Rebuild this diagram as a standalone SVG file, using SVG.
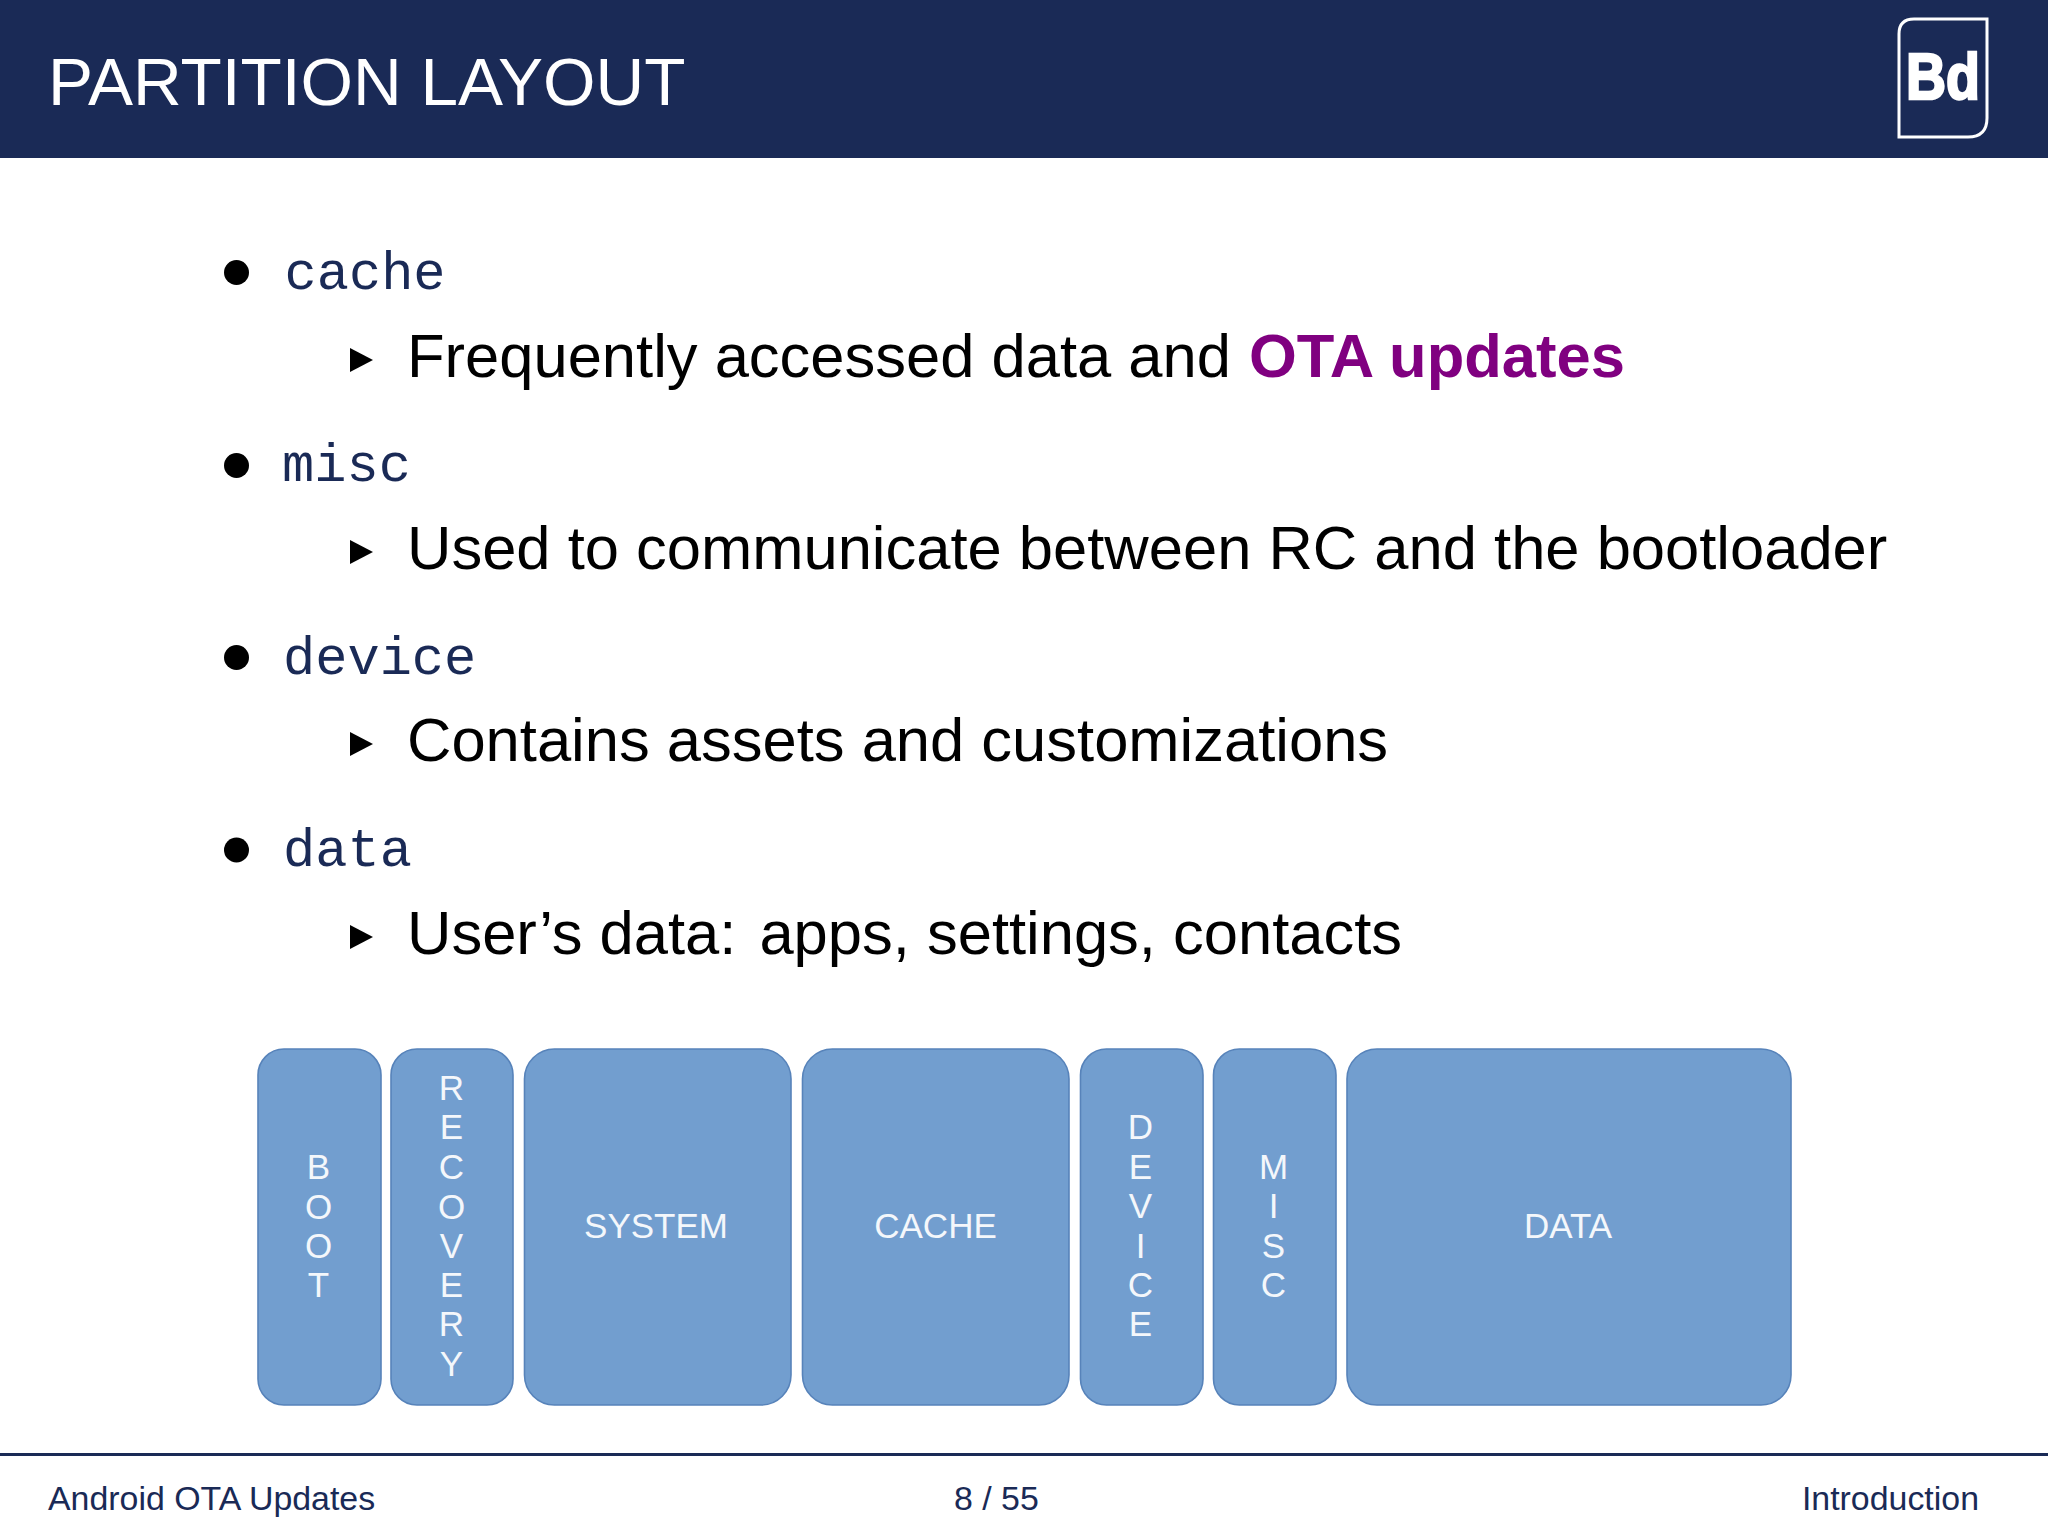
<svg xmlns="http://www.w3.org/2000/svg" width="2048" height="1536" viewBox="0 0 2048 1536">
<style>
.s{font-family:"Liberation Sans",Arial,sans-serif}
.m{font-family:"Liberation Mono","Courier New",monospace;font-size:53.7px;fill:#1a2a56}
.t{font-size:61.5px;fill:#000}
.b{fill:#729ecf;stroke:#5783ba;stroke-width:1.6}
.l{font-size:35px;fill:#f4f7fb;text-anchor:middle}
.f{font-size:33.9px;fill:#1a2a56}
</style>
<defs>
<polygon id="tri" points="0,-12 23,0 0,12" fill="#000"/>
</defs>
<rect width="2048" height="1536" fill="#fff"/>
<g id="header">
<rect width="2048" height="158" fill="#1a2a56"/>
<text class="s" x="48" y="104.500" font-size="67.500" fill="#fff">PARTITION LAYOUT</text>
</g>
<g id="logo">
<path d="M1914 19H1987V118Q1987 137 1968 137H1899V34Q1899 19 1914 19Z" fill="none" stroke="#fff" stroke-width="3"/>
<text class="s" x="1906" y="99" font-size="64" font-weight="700" fill="#fff" stroke="#fff" stroke-width="2.500" textLength="74" lengthAdjust="spacingAndGlyphs">Bd</text>
</g>
<g id="list">
<circle cx="236.500" cy="272.500" r="12.500"/><text class="m" x="284.500" y="289">cache</text>
<use href="#tri" x="350" y="360"/><text class="s t" x="407" y="376.500">Frequently accessed data and <tspan fill="#800080" font-weight="700" dx="1">OTA updates</tspan></text>
<circle cx="236.500" cy="465.500" r="12.500"/><text class="m" x="282" y="481">misc</text>
<use href="#tri" x="350" y="552"/><text class="s t" x="407" y="568.500">Used to communicate between RC and the bootloader</text>
<circle cx="236.500" cy="657.500" r="12.500"/><text class="m" x="283" y="674">device</text>
<use href="#tri" x="350" y="744"/><text class="s t" x="407" y="761">Contains assets and customizations</text>
<circle cx="236.500" cy="850" r="12.500"/><text class="m" x="283" y="866">data</text>
<use href="#tri" x="350" y="937"/><text class="s t" x="407" y="953.500">User’s data: <tspan dx="6">apps, settings, contacts</tspan></text>
</g>
<g id="connectors"></g>
<g id="boot"><rect class="b" x="258" y="1049" width="123" height="356" rx="26"/>
<text class="s l"><tspan x="318.500" y="1179">B</tspan><tspan x="318.500" y="1218.500">O</tspan><tspan x="318.500" y="1258">O</tspan><tspan x="318.500" y="1297">T</tspan></text></g>
<g id="recovery"><rect class="b" x="391" y="1049" width="122" height="356" rx="26"/>
<text class="s l"><tspan x="451.500" y="1100">R</tspan><tspan x="451.500" y="1139">E</tspan><tspan x="451.500" y="1179">C</tspan><tspan x="451.500" y="1218.500">O</tspan><tspan x="451.500" y="1258">V</tspan><tspan x="451.500" y="1297">E</tspan><tspan x="451.500" y="1336">R</tspan><tspan x="451.500" y="1376">Y</tspan></text></g>
<g id="system"><rect class="b" x="524.500" y="1049" width="266.500" height="356" rx="30"/>
<text class="s l" x="656" y="1238">SYSTEM</text></g>
<g id="cache"><rect class="b" x="802.500" y="1049" width="266.500" height="356" rx="30"/>
<text class="s l" x="935.500" y="1238">CACHE</text></g>
<g id="device"><rect class="b" x="1080.500" y="1049" width="122.500" height="356" rx="26"/>
<text class="s l"><tspan x="1140.500" y="1139">D</tspan><tspan x="1140.500" y="1179">E</tspan><tspan x="1140.500" y="1218">V</tspan><tspan x="1140.500" y="1257.500">I</tspan><tspan x="1140.500" y="1297">C</tspan><tspan x="1140.500" y="1336">E</tspan></text></g>
<g id="misc"><rect class="b" x="1213.500" y="1049" width="122.500" height="356" rx="26"/>
<text class="s l"><tspan x="1273.500" y="1179">M</tspan><tspan x="1273.500" y="1218">I</tspan><tspan x="1273.500" y="1257.500">S</tspan><tspan x="1273.500" y="1297">C</tspan></text></g>
<g id="data"><rect class="b" x="1347" y="1049" width="444" height="356" rx="30"/>
<text class="s l" x="1568" y="1238">DATA</text></g>
<g id="footer">
<rect y="1453" width="2048" height="3" fill="#1a2a56"/>
<text class="s f" x="48" y="1510">Android OTA Updates</text>
<text class="s f" x="954" y="1510">8 / 55</text>
<text class="s f" x="1979" y="1510" text-anchor="end">Introduction</text>
</g>
</svg>
